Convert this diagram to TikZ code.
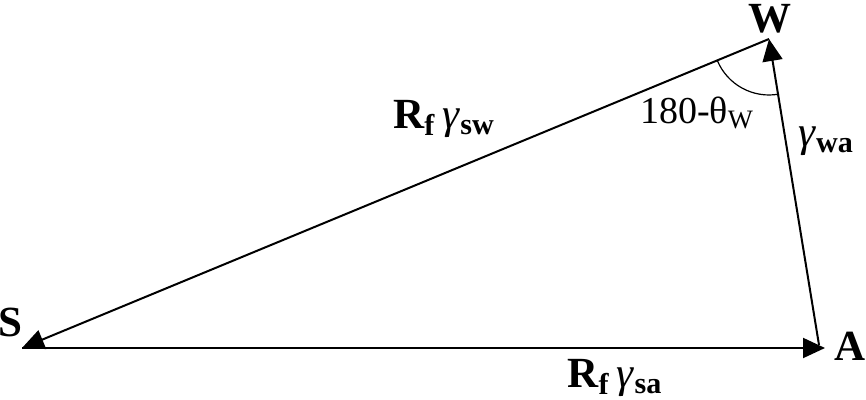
\documentclass[tikz,border=0pt]{standalone}
\usepackage{fontspec}
\setmainfont{Liberation Serif}
\usetikzlibrary{arrows.meta}
\newcommand{\gm}{\textmd{\textit{γ}}}
\begin{document}
\begin{tikzpicture}[x=0.5pt, y=0.5pt, line width=1pt,
   vec/.style={-{Triangle[length=11pt,width=10pt]}},
   lbl/.style={font=\fontsize{21.5}{21.5}\selectfont\bfseries, inner sep=0pt}]
   \useasboundingbox (0,0) rectangle (866,400);
   \coordinate (s0) at ( 22, 52);
   \coordinate (a0) at (825, 52);
   \coordinate (a1) at (819, 55);
   \coordinate (w0) at (769,361);
  \draw[vec] (s0) -- (a0); \draw[vec] (w0) -- (s0); \draw[vec] (a1) -- (w0);
  \draw[line width=0.6pt] ([shift={(202.5:28pt)}]w0) arc[start angle=202.5, end angle=280.3, radius=28pt];
  \node[lbl] (wl) at (770,381) {W};
  \node[lbl] (sl) at ( 10, 78) {S};
  \node[lbl] (al) at (850, 54) {A};
  \node[lbl] (sw) at (444,281) {R\textsubscript{f}\,\gm\textsubscript{sw}};
  \node[lbl] (sa) at (615, 22) {R\textsubscript{f}\,\gm\textsubscript{sa}};
  \node[lbl] (wa) at (826,259) {\gm\textsubscript{wa}};
  \node[font=\fontsize{19}{19}\selectfont, inner sep=0pt] (th) at (697,287) {180-θ\textsubscript{W}};
\end{tikzpicture}
\end{document}
